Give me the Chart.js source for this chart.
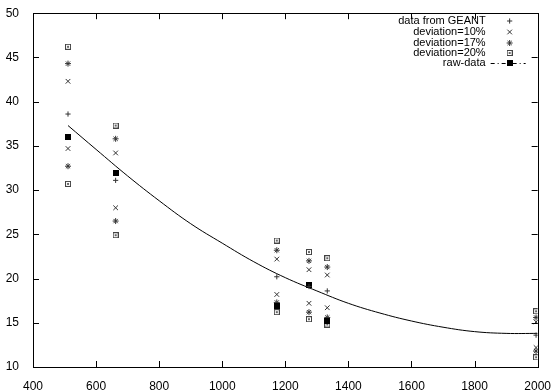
<!DOCTYPE html>
<html>
<head>
<meta charset="utf-8">
<script src="https://cdn.jsdelivr.net/npm/chart.js"></script>
<style>
  html, body { margin: 0; padding: 0; background: #fff; }
  #wrap { width: 555px; height: 392px; }
</style>
</head>
<body>
<div id="wrap"><canvas id="c"></canvas></div>
<script>
// energies (x) of the measured points
const energies = [511, 662, 1173, 1275, 1333, 1995];

// values
const geant = [38.6, 31.1, 20.2, 19.1, 18.6, 13.6];
const dev10Hi = [42.3, 34.2, 22.2, 21.0, 20.4, 15.1];
const dev10Lo = [34.7, 28.0, 18.2, 17.2, 16.7, 12.2];
const dev17Hi = [44.3, 35.8, 23.2, 22.0, 21.3, 15.6];
const dev17Lo = [32.7, 26.5, 17.3, 16.2, 15.6, 11.8];
const dev20Hi = [46.2, 37.3, 24.3, 23.0, 22.3, 16.3];
const dev20Lo = [30.7, 24.9, 16.2, 15.4, 14.8, 11.1];
const rawData = [36.0, 31.9, 16.9, 19.3, 15.2, null];

// fitted curve, read at a few energies
const fitX = [511, 600, 700, 800, 900, 1000, 1100, 1200, 1300, 1400, 1500, 1600, 1700, 1800, 1900, 2000];
const fitY = [37.3, 34.6, 31.6, 28.8, 26.2, 24.0, 21.9, 20.1, 18.6, 17.2, 16.1, 15.2, 14.5, 14.0, 13.8, 13.8];

const xTicks = [400, 600, 800, 1000, 1200, 1400, 1600, 1800, 2000];
const yTicks = [10, 15, 20, 25, 30, 35, 40, 45, 50];

const legendLabels = ['data from GEANT', 'deviation=10%', 'deviation=17%', 'deviation=20%', 'raw-data'];

const ink = '#333';
const FONT = '"Liberation Sans", Arial, sans-serif';

function pts(ys) {
    return energies.map((x, i) => ({ x: x, y: ys[i] }));
}

// open square with a dot in the middle (gnuplot style)
function makeBox() {
    const cv = document.createElement('canvas');
    cv.width = 6; cv.height = 6;
    const g = cv.getContext('2d');
    g.strokeStyle = '#444';
    g.lineWidth = 1;
    g.strokeRect(0.5, 0.5, 5, 5);
    g.fillStyle = '#666';
    g.fillRect(2, 2, 2, 2);
    return cv;
}
function makeFilled() {
    const cv = document.createElement('canvas');
    cv.width = 6; cv.height = 6;
    const g = cv.getContext('2d');
    g.fillStyle = '#000';
    g.fillRect(0, 0, 6, 6);
    return cv;
}
const boxImg = makeBox();
const filledImg = makeFilled();

function scatter(label, ys, style, r) {
    return {
        type: 'scatter',
        label: label,
        data: pts(ys),
        showLine: false,
        pointStyle: style,
        pointRadius: r,
        pointHoverRadius: r,
        borderColor: ink,
        backgroundColor: ink,
        pointBorderWidth: 1
    };
}

const datasets = [
    scatter(legendLabels[0], geant, 'cross', 2.6),
    scatter(legendLabels[1], dev10Hi, 'crossRot', 3.3),
    scatter(legendLabels[2], dev17Hi, 'star', 3),
    scatter(legendLabels[3], dev20Hi, boxImg, 3),
    scatter(legendLabels[4], rawData, filledImg, 3),
    scatter('', dev10Lo, 'crossRot', 3.3),
    scatter('', dev17Lo, 'star', 3),
    scatter('', dev20Lo, boxImg, 3),
    {
        type: 'line',
        label: '',
        data: fitX.map((x, i) => ({ x: x, y: fitY[i] })),
        borderColor: '#000',
        borderWidth: 1,
        pointRadius: 0,
        tension: 0.4,
        fill: false
    }
];

// gnuplot-ish frame, inward ticks on all four sides, legend at top right
const gnuFrame = {
    id: 'gnuFrame',
    afterDatasetsDraw(chart) {
        const ctx = chart.ctx;
        const a = chart.chartArea;
        const xs = chart.scales.x, ys = chart.scales.y;
        ctx.save();
        ctx.strokeStyle = '#000';
        ctx.lineWidth = 1;
        ctx.strokeRect(Math.round(a.left) + 0.5, Math.round(a.top) + 0.5,
            Math.round(a.right - a.left), Math.round(a.bottom - a.top));
        const tl = 6;
        ctx.beginPath();
        xTicks.forEach(v => {
            const px = Math.round(xs.getPixelForValue(v)) + 0.5;
            ctx.moveTo(px, a.bottom); ctx.lineTo(px, a.bottom - tl);
            ctx.moveTo(px, a.top); ctx.lineTo(px, a.top + tl);
        });
        yTicks.forEach(v => {
            const py = Math.round(ys.getPixelForValue(v)) + 0.5;
            ctx.moveTo(a.left, py); ctx.lineTo(a.left + tl, py);
            ctx.moveTo(a.right, py); ctx.lineTo(a.right - tl, py);
        });
        ctx.stroke();

        // legend
        ctx.font = '11px ' + FONT;
        ctx.fillStyle = '#000';
        ctx.textAlign = 'right';
        ctx.textBaseline = 'middle';
        const textRight = a.right - 52;
        const markX = a.right - 28;
        const rowY = [21, 32, 43, 53, 63];
        for (let i = 0; i < 5; i++) {
            const ds = chart.data.datasets[i];
            ctx.fillText(ds.label, textRight, rowY[i]);
            ctx.strokeStyle = '#000';
            if (i === 4) {
                ctx.save();
                ctx.setLineDash([4, 3, 1, 3]);
                ctx.beginPath();
                ctx.moveTo(textRight + 5, rowY[i] + 0.5);
                ctx.lineTo(a.right - 12, rowY[i] + 0.5);
                ctx.stroke();
                ctx.restore();
            }
            ctx.strokeStyle = ink;
            Chart.helpers.drawPoint(ctx, {
                pointStyle: ds.pointStyle,
                radius: ds.pointRadius,
                borderWidth: 1
            }, markX, rowY[i]);
        }
        ctx.restore();
    }
};

new Chart(document.getElementById('c'), {
    data: { datasets: datasets },
    plugins: [gnuFrame],
    options: {
        responsive: true,
        maintainAspectRatio: false,
        animation: false,
        layout: { padding: { left: 0, top: 8, right: 12, bottom: 0 } },
        plugins: {
            legend: { display: false },
            tooltip: { enabled: false }
        },
        scales: {
            x: {
                type: 'linear',
                min: 400,
                max: 2000,
                afterBuildTicks: s => { s.ticks = xTicks.map(v => ({ value: v })); },
                afterFit: s => { s.height = 25; },
                grid: { display: false },
                border: { display: false },
                ticks: {
                    color: '#000',
                    padding: 4,
                    maxRotation: 0,
                    font: { family: FONT, size: 12 },
                    callback: v => String(v)
                }
            },
            y: {
                type: 'linear',
                min: 10,
                max: 50,
                afterBuildTicks: s => { s.ticks = yTicks.map(v => ({ value: v })); },
                afterFit: s => { s.width = 33; },
                grid: { display: false },
                border: { display: false },
                ticks: {
                    color: '#000',
                    padding: 6,
                    font: { family: FONT, size: 12 },
                    callback: v => String(v)
                }
            }
        }
    }
});
</script>
</body>
</html>
